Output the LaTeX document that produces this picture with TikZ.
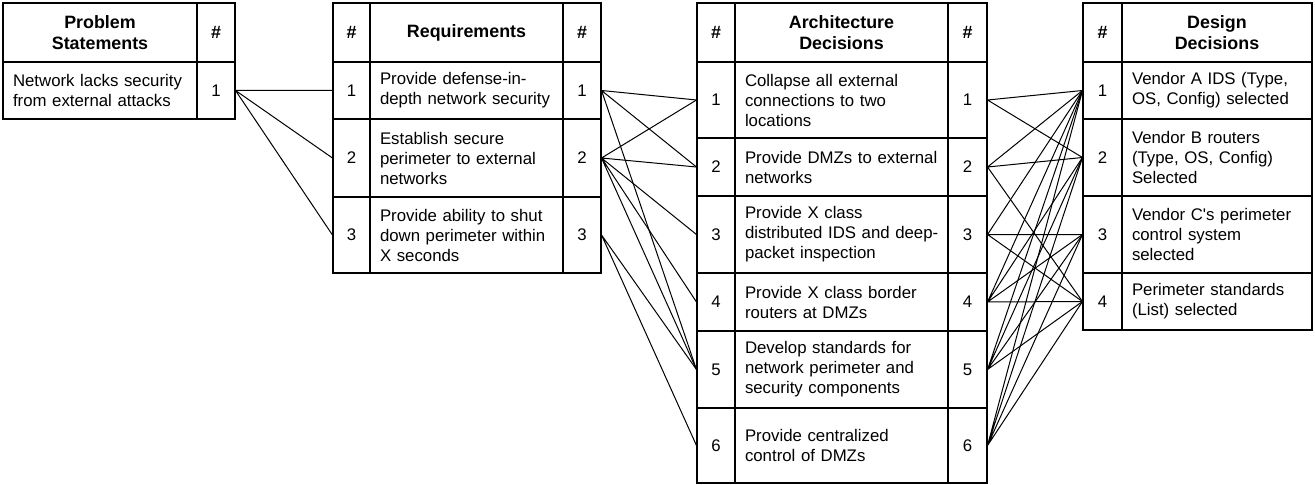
\documentclass[tikz,border=0pt]{standalone}
\usepackage{fontspec}
\setmainfont{Liberation Sans}
\tikzset{
  cell/.style={draw=black, line width=0.8pt, inner xsep=7.5pt, inner ysep=0pt, align=left, font=\fontsize{12.6}{15}\selectfont},
  head/.style={align=center, font=\fontsize{13.4}{15.5}\selectfont\bfseries},
  num/.style={align=center},
  link/.style={line width=0.75pt}
}
% one table cell: [style]{name}{x1}{y1}{x2}{y2}{text}
\newcommand{\tcell}[7][]{%
  \pgfmathsetlengthmacro{\cellw}{(#5-#3)*0.75pt}%
  \pgfmathsetlengthmacro{\cellh}{(#6-#4)*0.75pt}%
  \pgfmathsetlengthmacro{\cellt}{(#5-#3-20)*0.75pt}%
  \node[cell, #1, minimum width=\cellw, minimum height=\cellh, text width=\cellt] (#2) at ({(#3+#5)/2},{(#4+#6)/2}) {#7};}

\begin{document}
\begin{tikzpicture}[x=0.75pt, y=-0.75pt]
    \useasboundingbox (0,0) rectangle (1315,485);

    % Problem statements
    \tcell[head]{psh}{3}{3}{197}{62}{Problem\\Statements}
    \tcell[head]{psnh}{197}{3}{235}{62}{\#}
    \tcell{ps1}{3}{62}{197}{119}{Network lacks security\\from external attacks}
    \tcell[num]{psn1}{197}{62}{235}{119}{1}

    % Requirements
    \tcell[head]{rqah}{333}{3}{370}{62}{\#}
    \tcell[head]{rqh}{370}{3}{563}{62}{Requirements}
    \tcell[head]{rqbh}{563}{3}{601}{62}{\#}
    \tcell[num]{rqa1}{333}{62}{370}{119}{1}
    \tcell{rq1}{370}{62}{563}{119}{Provide defense-in-\\depth network security}
    \tcell[num]{rqb1}{563}{62}{601}{119}{1}
    \tcell[num]{rqa2}{333}{119}{370}{197}{2}
    \tcell{rq2}{370}{119}{563}{197}{Establish secure\\perimeter to external\\networks}
    \tcell[num]{rqb2}{563}{119}{601}{197}{2}
    \tcell[num]{rqa3}{333}{197}{370}{273}{3}
    \tcell{rq3}{370}{197}{563}{273}{Provide ability to shut\\down perimeter within\\X seconds}
    \tcell[num]{rqb3}{563}{197}{601}{273}{3}

    % Architecture decisions
    \tcell[head]{arah}{697}{3}{735}{62}{\#}
    \tcell[head]{arh}{735}{3}{948}{62}{Architecture\\Decisions}
    \tcell[head]{arbh}{948}{3}{987}{62}{\#}
    \tcell[num]{ara1}{697}{62}{735}{138}{1}
    \tcell{ar1}{735}{62}{948}{138}{Collapse all external\\connections to two\\locations}
    \tcell[num]{arb1}{948}{62}{987}{138}{1}
    \tcell[num]{ara2}{697}{138}{735}{196}{2}
    \tcell{ar2}{735}{138}{948}{196}{Provide DMZs to external\\networks}
    \tcell[num]{arb2}{948}{138}{987}{196}{2}
    \tcell[num]{ara3}{697}{196}{735}{273}{3}
    \tcell{ar3}{735}{196}{948}{273}{Provide X class\\\mbox{distributed IDS and deep-}\\packet inspection}
    \tcell[num]{arb3}{948}{196}{987}{273}{3}
    \tcell[num]{ara4}{697}{273}{735}{331}{4}
    \tcell{ar4}{735}{273}{948}{331}{Provide X class border\\routers at DMZs}
    \tcell[num]{arb4}{948}{273}{987}{331}{4}
    \tcell[num]{ara5}{697}{331}{735}{408}{5}
    \tcell{ar5}{735}{331}{948}{408}{Develop standards for\\network perimeter and\\security components}
    \tcell[num]{arb5}{948}{331}{987}{408}{5}
    \tcell[num]{ara6}{697}{408}{735}{483}{6}
    \tcell{ar6}{735}{408}{948}{483}{Provide centralized\\control of DMZs}
    \tcell[num]{arb6}{948}{408}{987}{483}{6}

    % Design decisions
    \tcell[head]{dsnh}{1083}{3}{1122}{62}{\#}
    \tcell[head]{dsh}{1122}{3}{1312}{62}{Design\\Decisions}
    \tcell[num]{dsn1}{1083}{62}{1122}{119}{1}
    \tcell{ds1}{1122}{62}{1312}{119}{Vendor A IDS (Type,\\OS, Config) selected}
    \tcell[num]{dsn2}{1083}{119}{1122}{196}{2}
    \tcell{ds2}{1122}{119}{1312}{196}{Vendor B routers\\(Type, OS, Config)\\Selected}
    \tcell[num]{dsn3}{1083}{196}{1122}{273}{3}
    \tcell{ds3}{1122}{196}{1312}{273}{Vendor C\textquotesingle s perimeter\\control system\\selected}
    \tcell[num]{dsn4}{1083}{273}{1122}{330}{4}
    \tcell{ds4}{1122}{273}{1312}{330}{Perimeter standards\\(List) selected}

    % Problem -> requirements
    \draw[link] (psn1.east) -- (rqa1.west) (psn1.east) -- (rqa2.west) (psn1.east) -- (rqa3.west);

    % Requirements -> architecture
    \draw[link] (rqb1.east) -- (ara1.west) (rqb1.east) -- (ara2.west) (rqb1.east) -- (ara5.west);
    \draw[link] (rqb2.east) -- (ara1.west) (rqb2.east) -- (ara2.west) (rqb2.east) -- (ara3.west)
                (rqb2.east) -- (ara4.west) (rqb2.east) -- (ara5.west);
    \draw[link] (rqb3.east) -- (ara5.west) (rqb3.east) -- (ara6.west);

    % Architecture -> design
    \draw[link] (arb1.east) -- (dsn1.west) (arb1.east) -- (dsn2.west);
    \draw[link] (arb2.east) -- (dsn1.west) (arb2.east) -- (dsn2.west) (arb2.east) -- (dsn4.west);
    \draw[link] (arb3.east) -- (dsn1.west) (arb3.east) -- (dsn3.west) (arb3.east) -- (dsn4.west);
    \draw[link] (arb4.east) -- (dsn1.west) (arb4.east) -- (dsn2.west) (arb4.east) -- (dsn3.west) (arb4.east) -- (dsn4.west);
    \draw[link] (arb5.east) -- (dsn1.west) (arb5.east) -- (dsn2.west) (arb5.east) -- (dsn3.west) (arb5.east) -- (dsn4.west);
    \draw[link] (arb6.east) -- (dsn1.west) (arb6.east) -- (dsn2.west) (arb6.east) -- (dsn3.west) (arb6.east) -- (dsn4.west);
\end{tikzpicture}
\end{document}
